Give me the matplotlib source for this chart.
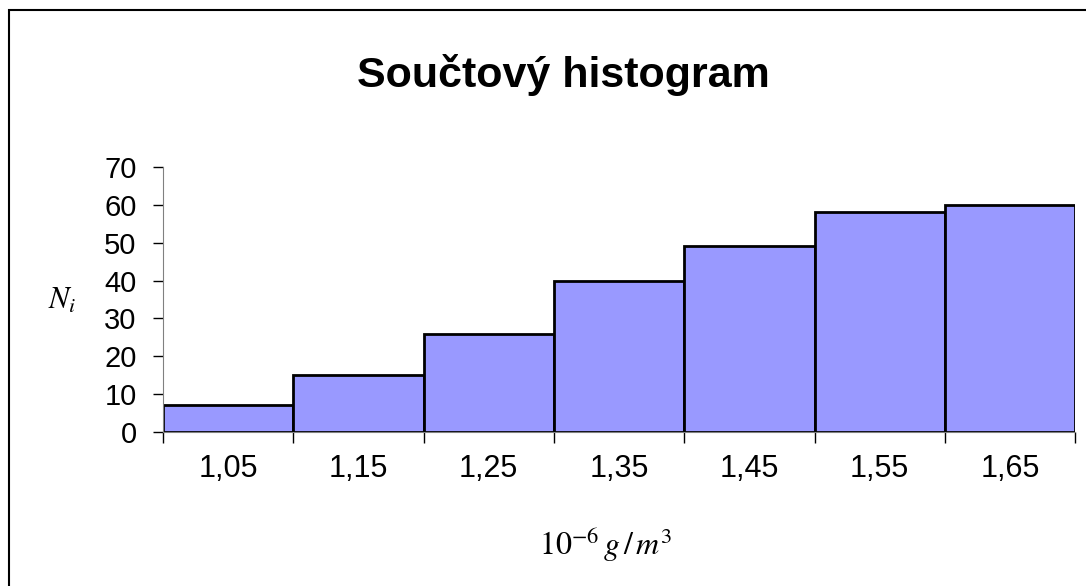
import matplotlib
matplotlib.use("Agg")
import numpy as np
from matplotlib import pyplot as plt
from matplotlib.patches import Rectangle

plt.rcParams['font.family'] = ['Liberation Sans', 'DejaVu Sans']
plt.rcParams['mathtext.fontset'] = 'stix'

categories = ["1,05", "1,15", "1,25", "1,35", "1,45", "1,55", "1,65"]
counts = [7, 15, 26, 40, 49, 58, 60]
title = "Součtový histogram"

f = plt.figure(figsize=(10.86, 5.86), dpi=100)
ax = f.add_axes([0.150, 0.263, 0.840, 0.452])

x = np.arange(len(categories))
ax.bar(x, counts, width=1.0, color="#9999ff", edgecolor="black", linewidth=2)

ax.set_xlim(-0.5, len(categories) - 0.5)
ax.set_ylim(0, 70)
ax.set_yticks(np.arange(0, 71, 10))
ax.set_xticks(x)
ax.set_xticklabels(categories)
# ticks sit on the bar boundaries, labels in the bar centres
ax.set_xticks(np.arange(-0.5, len(categories)), minor=True)
ax.tick_params(axis="x", which="major", length=0, pad=16, labelsize=22)
ax.tick_params(axis="x", which="minor", length=8, color="black", width=1)
ax.tick_params(axis="y", length=7, width=1, color="black", labelsize=21, pad=12)

for s in ["top", "right"]:
    ax.spines[s].set_visible(False)
ax.spines["left"].set_color("#808080")
ax.spines["bottom"].set_color("#808080")

f.text(62 / 1086, 1 - 301 / 586, "$N_i$", fontsize=22, ha="center", va="center")
f.text(606 / 1086, 1 - 555 / 586, r"$10^{-6}\,g\,/\,m^3$", fontsize=23,
       ha="center", va="baseline")

f.text(563 / 1086, 1 - 87 / 586, title, ha="center", va="baseline",
       fontsize=31, fontweight="bold")

# outer frame of the chart area
f.patches.append(Rectangle((9 / 1086, -0.1), 1.2, 1 - 10 / 586 + 0.1,
                           transform=f.transFigure, fill=False,
                           edgecolor="black", linewidth=1.5))

f.savefig("out.png", dpi=100)
